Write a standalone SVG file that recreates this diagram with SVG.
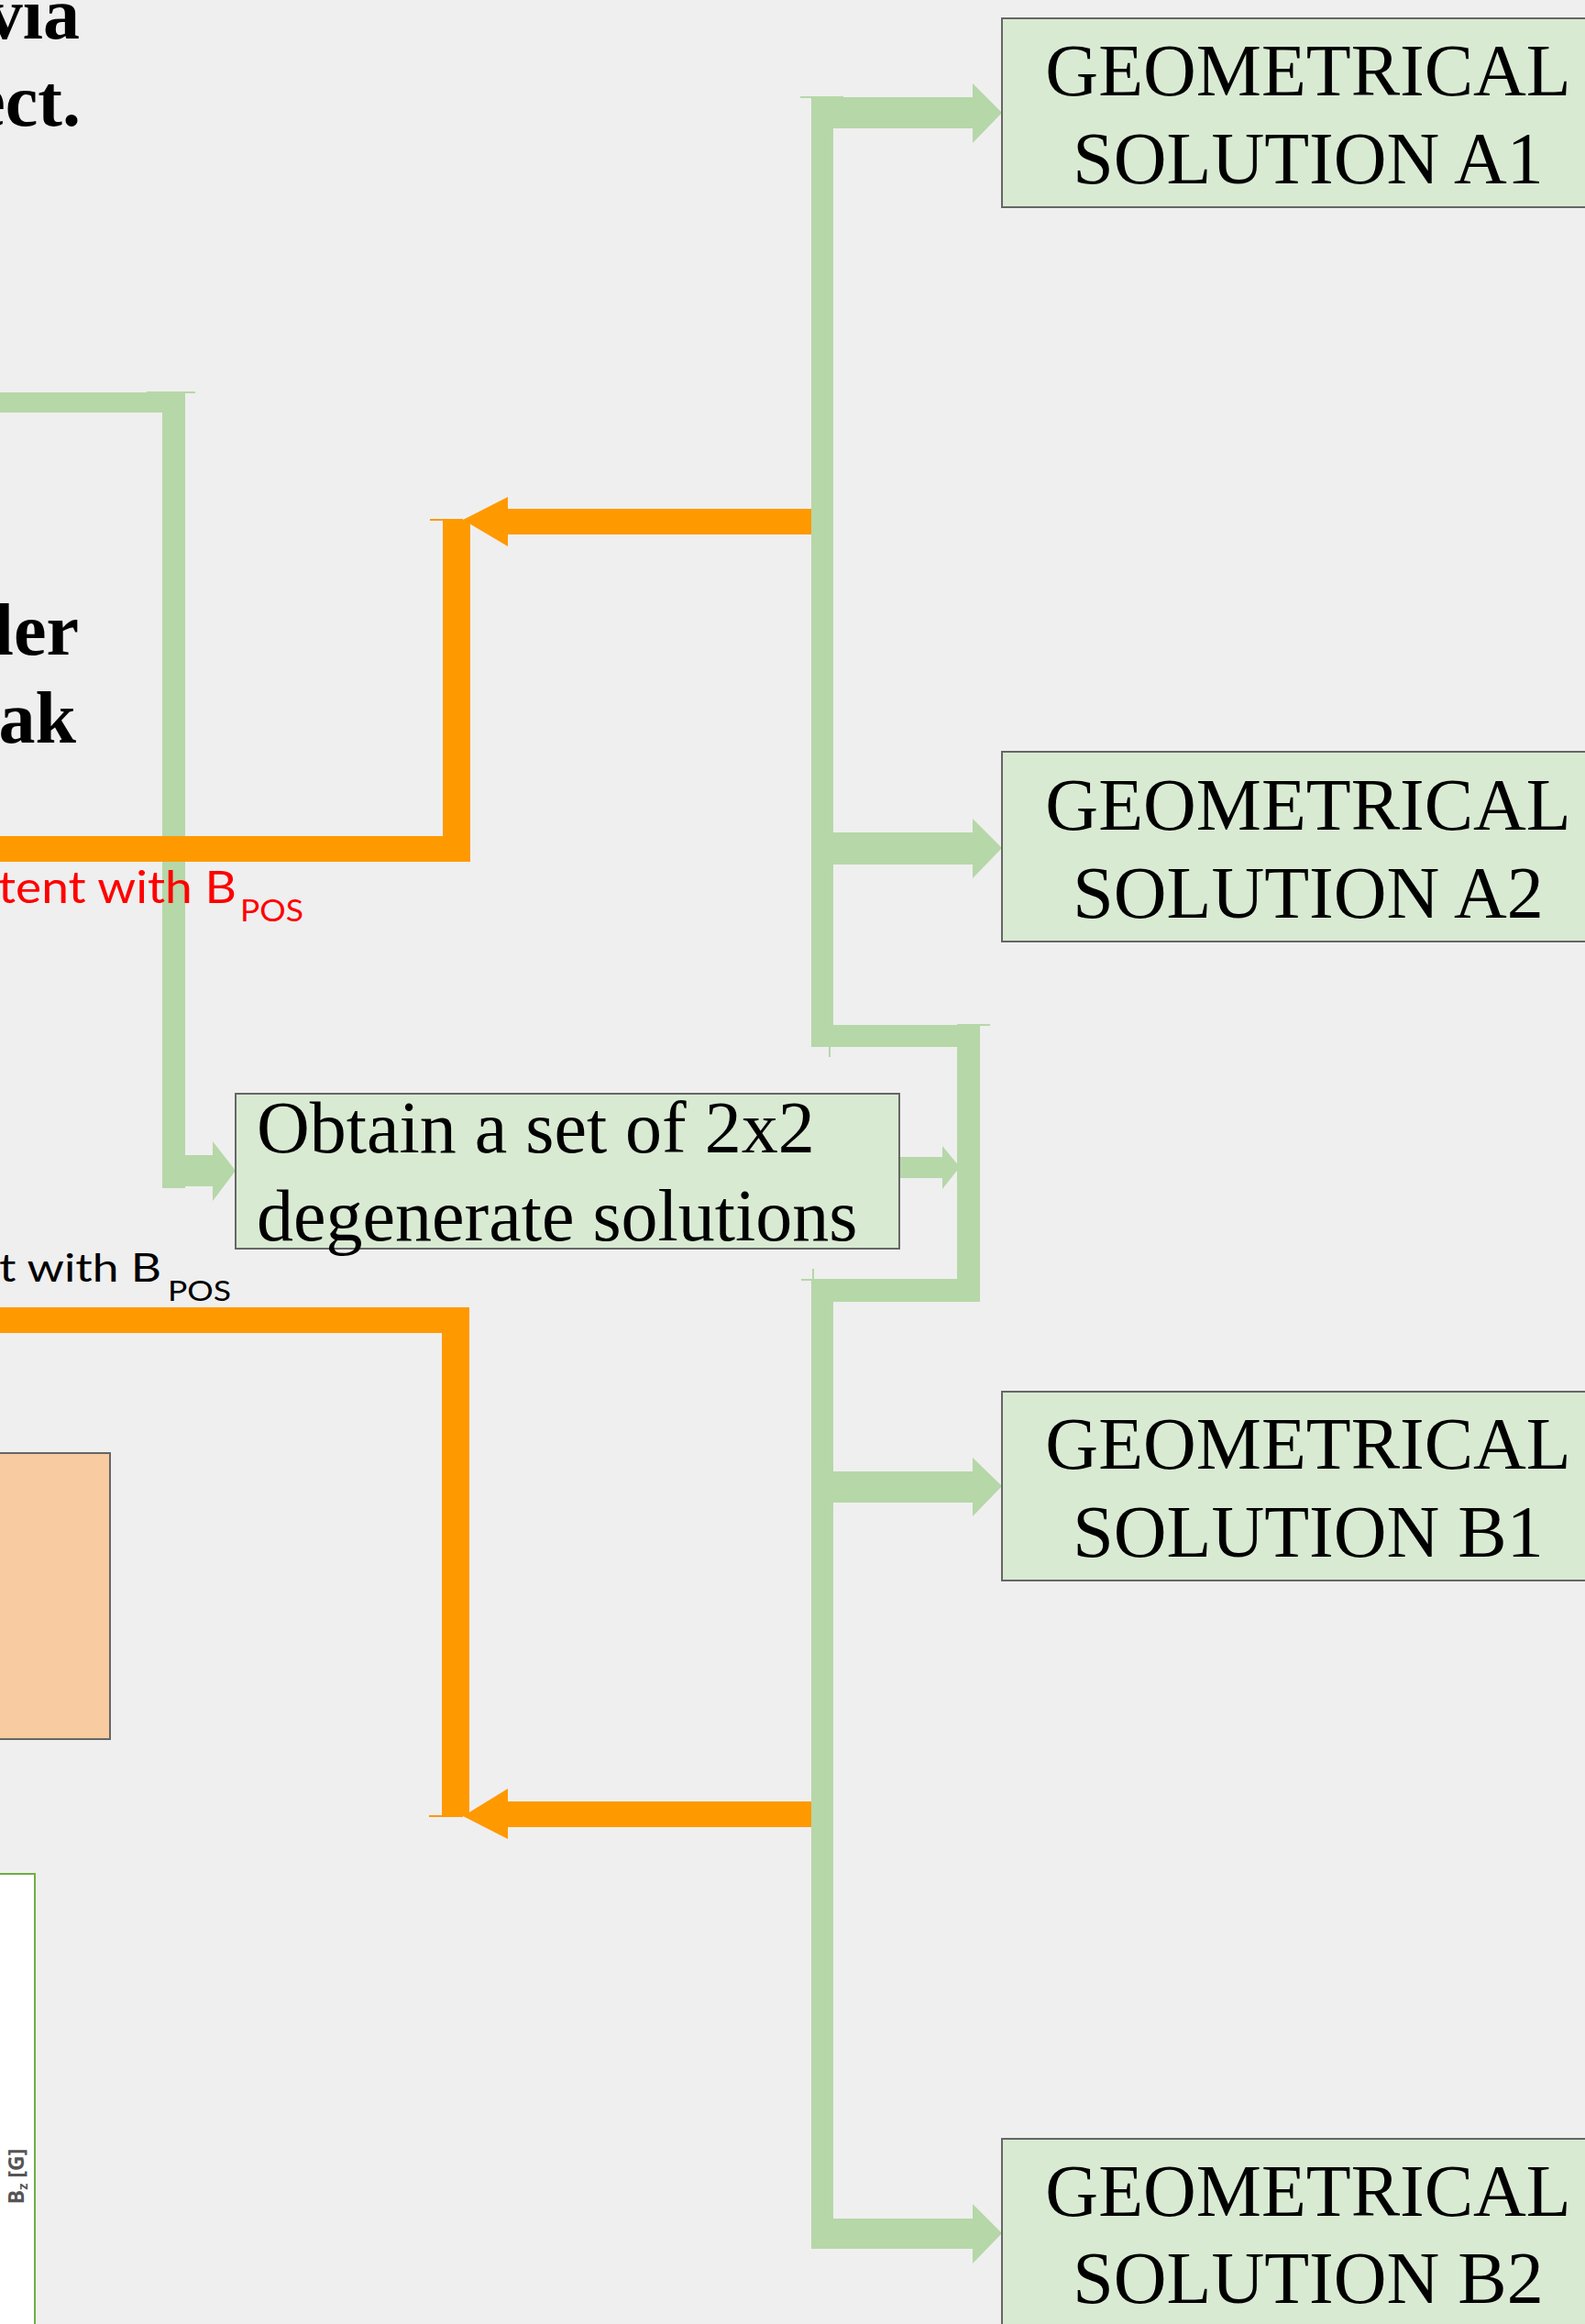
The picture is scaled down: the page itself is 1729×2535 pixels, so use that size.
<svg xmlns="http://www.w3.org/2000/svg" width="1729" height="2535" viewBox="0 0 1729 2535">
<style>
  .box{fill:#D9EAD3;stroke:#666666;stroke-width:2}
  .g{fill:#B6D7A8}
  .gl{stroke:#B6D7A8;stroke-width:2;fill:none}
  .o{fill:#FF9900}
  .ol{stroke:#FF9900;stroke-width:2;fill:none}
  .serif{font-family:"Liberation Serif","Times New Roman",serif;font-size:80px;fill:#000000}
  .bold{font-weight:bold}
  .lbl{font-family:Lato,"Liberation Sans",sans-serif}
</style>
<rect x="0" y="0" width="1729" height="2535" fill="#EFEFEF"/>

<g id="title-text">
  <text class="serif bold" text-anchor="end" x="87" y="42">via</text>
  <text class="serif bold" text-anchor="end" x="88" y="137">ect.</text>
</g>
<g id="middle-text">
  <text class="serif bold" text-anchor="end" x="86" y="714">ler</text>
  <text class="serif bold" text-anchor="end" x="83" y="810">ak</text>
</g>

<g id="connectors">
  <!-- green elbow into "Obtain" box -->
  <rect class="g" x="-2" y="428" width="204" height="22"/>
  <line class="gl" x1="160" y1="428" x2="213" y2="428"/>
  <rect class="g" x="177" y="428" width="25" height="868"/>
  <rect class="g" x="177" y="1260" width="56" height="34"/>
  <polygon class="g" points="232,1245 257,1277 232,1310"/>

  <!-- green trunk upper -->
  <rect class="g" x="885" y="106" width="24" height="1036"/>
  <line class="gl" x1="873" y1="106" x2="920" y2="106"/>
  <rect class="g" x="885" y="106" width="177" height="34"/>
  <polygon class="g" points="1061,91 1093,123 1061,156"/>
  <rect class="g" x="885" y="908" width="177" height="35"/>
  <polygon class="g" points="1061,893 1093,925 1061,958"/>

  <!-- loop -->
  <rect class="g" x="885" y="1118" width="184" height="24"/>
  <line class="gl" x1="1044" y1="1118" x2="1080" y2="1118"/>
  <line class="gl" x1="905" y1="1142" x2="905" y2="1153"/>
  <rect class="g" x="1044" y="1118" width="25" height="302"/>
  <rect class="g" x="885" y="1396" width="184" height="24"/>
  <line class="gl" x1="874" y1="1396" x2="1044" y2="1396"/>
  <line class="gl" x1="887" y1="1384" x2="887" y2="1396"/>

  <!-- small arrow from Obtain box -->
  <rect class="g" x="981" y="1262" width="48" height="23"/>
  <polygon class="g" points="1028,1250 1047,1273 1028,1297"/>

  <!-- green trunk lower -->
  <rect class="g" x="885" y="1396" width="24" height="1057"/>
  <rect class="g" x="885" y="1605" width="177" height="34"/>
  <polygon class="g" points="1061,1590 1093,1621 1061,1654"/>
  <rect class="g" x="885" y="2420" width="177" height="33"/>
  <polygon class="g" points="1061,2404 1093,2436 1061,2469"/>

  <!-- orange top -->
  <rect class="o" x="-2" y="912" width="515" height="28"/>
  <rect class="o" x="483" y="567" width="30" height="373"/>
  <line class="ol" x1="469" y1="567" x2="505" y2="567"/>
  <rect class="o" x="553" y="555" width="332" height="28"/>
  <polygon class="o" points="554,542 505,567 554,596"/>

  <!-- orange bottom -->
  <rect class="o" x="-2" y="1426" width="514" height="28"/>
  <rect class="o" x="482" y="1426" width="30" height="555"/>
  <line class="ol" x1="468" y1="1981" x2="505" y2="1981"/>
  <rect class="o" x="553" y="1965" width="332" height="28"/>
  <polygon class="o" points="554,1951 505,1981 554,2006"/>
</g>

<g id="label-red">
  <text class="lbl" fill="#FF0000" font-size="48" x="-2" y="985" textLength="260" lengthAdjust="spacingAndGlyphs">tent with B</text>
  <text class="lbl" fill="#FF0000" font-size="33" x="262" y="1005" textLength="69" lengthAdjust="spacingAndGlyphs">POS</text>
</g>
<g id="label-black">
  <text class="lbl" fill="#000000" font-size="43" x="-1" y="1398" textLength="177" lengthAdjust="spacingAndGlyphs">t with B</text>
  <text class="lbl" fill="#000000" font-size="31" x="183" y="1419" textLength="69" lengthAdjust="spacingAndGlyphs">POS</text>
</g>

<g id="node-obtain">
  <rect class="box" x="257" y="1193" width="724" height="169"/>
  <text class="serif" x="280" y="1257">Obtain a set of 2x2</text>
  <text class="serif" x="280" y="1353">degenerate solutions</text>
</g>

<g id="node-a1">
  <rect class="box" x="1093" y="20" width="668" height="206"/>
  <text class="serif" text-anchor="middle" x="1427" y="104">GEOMETRICAL</text>
  <text class="serif" text-anchor="middle" x="1427" y="200">SOLUTION A1</text>
</g>
<g id="node-a2">
  <rect class="box" x="1093" y="820" width="668" height="207"/>
  <text class="serif" text-anchor="middle" x="1427" y="905">GEOMETRICAL</text>
  <text class="serif" text-anchor="middle" x="1427" y="1001">SOLUTION A2</text>
</g>
<g id="node-b1">
  <rect class="box" x="1093" y="1518" width="668" height="206"/>
  <text class="serif" text-anchor="middle" x="1427" y="1602">GEOMETRICAL</text>
  <text class="serif" text-anchor="middle" x="1427" y="1698">SOLUTION B1</text>
</g>
<g id="node-b2">
  <rect class="box" x="1093" y="2333" width="668" height="220"/>
  <text class="serif" text-anchor="middle" x="1427" y="2417">GEOMETRICAL</text>
  <text class="serif" text-anchor="middle" x="1427" y="2512">SOLUTION B2</text>
</g>

<g id="node-peach">
  <rect x="-4" y="1585" width="124" height="312" fill="#F8CBA0" stroke="#666666" stroke-width="2"/>
</g>

<g id="node-plot">
  <rect x="-4" y="2044" width="42" height="500" fill="#FFFFFF" stroke="#70AD47" stroke-width="2"/>
  <text font-family="'Open Sans','Liberation Sans',sans-serif" font-weight="bold" font-size="23" fill="#555555" text-anchor="middle" transform="translate(26,2374) rotate(-90)">B<tspan font-size="15" dy="4">z</tspan><tspan dy="-4"> [G]</tspan></text>
</g>
</svg>
